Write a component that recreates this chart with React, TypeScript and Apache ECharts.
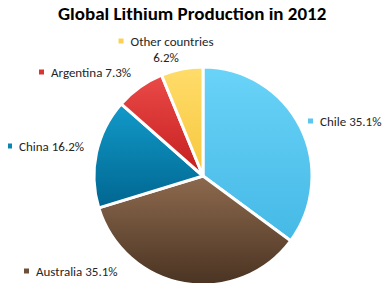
import React, { useEffect, useRef } from "react";
import * as echarts from "echarts";

const titleText = "Global Lithium Production in 2012";
const countries = ["Chile", "Australia", "China", "Argentina", "Other countries"];
const shares = [35.1, 35.1, 16.2, 7.3, 6.2];
const topColors = ["#6ad3f8", "#8d6a4e", "#129ac9", "#ea4a48", "#ffdc6a"];
const bottomColors = ["#45b9e6", "#4a3322", "#006690", "#c41e1e", "#f7c73e"];
const markerColors = ["#5bc6f0", "#6e5038", "#0b86b4", "#d83434", "#fcd055"];

// label anchor points (left edge of marker / center for 'Other')
const labelPos = [
  { x: 308, y: 121, align: "left" },
  { x: 24, y: 271, align: "left" },
  { x: 7, y: 146, align: "left" },
  { x: 39, y: 72, align: "left" },
  { x: 166, y: 49, align: "center" },
];

const FONT = "Carlito, Calibri, Lato, 'Liberation Sans', sans-serif";

export default function App() {
  const ref = useRef<HTMLDivElement>(null);
  useEffect(() => {
    if (!ref.current) return;
    const chart = echarts.init(ref.current, null, { renderer: "svg" });
    const data = countries.map((name, i) => ({
      name,
      value: shares[i],
      itemStyle: {
        color: new echarts.graphic.LinearGradient(0, 0, 0, 1, [
          { offset: 0, color: topColors[i] },
          { offset: 1, color: bottomColors[i] },
        ]),
      },
      label: {
        formatter:
          i === 4
            ? `{m${i}|}{s|}{t|${name}}\n{t|${shares[i].toFixed(1)}%}`
            : `{m${i}|}{s|}{t|${name} ${shares[i].toFixed(1)}%}`,
      },
    }));
    const rich: any = {
      s: { width: 7 },
      t: { fontSize: 13, fontFamily: FONT, color: "#262626", lineHeight: 16 },
    };
    markerColors.forEach((c, i) => {
      rich["m" + i] = { width: 5, height: 5, backgroundColor: c };
    });
    chart.setOption({
      animation: false,
      title: {
        text: titleText,
        left: 58,
        top: 2,
        padding: 0,
        textStyle: {
          fontFamily: FONT,
          fontWeight: "bold",
          fontSize: 19,
          lineHeight: 22,
          color: "#000",
        },
      },
      series: [
        {
          type: "pie",
          center: [203, 176],
          radius: [0, 109],
          startAngle: 90,
          clockwise: true,
          itemStyle: { borderColor: "#fff", borderWidth: 3 },
          label: { show: true, position: "inside", overflow: "none", rich },
          labelLine: { show: false },
          labelLayout: (p: any) => {
            const lp = labelPos[p.dataIndex];
            return { x: lp.x, y: lp.y, align: lp.align, verticalAlign: "middle" };
          },
          data,
        },
      ],
    });
    return () => chart.dispose();
  }, []);
  return (
    <div style={{ margin: -8 }}>
      <div ref={ref} style={{ width: 391, height: 291 }} />
    </div>
  );
}
